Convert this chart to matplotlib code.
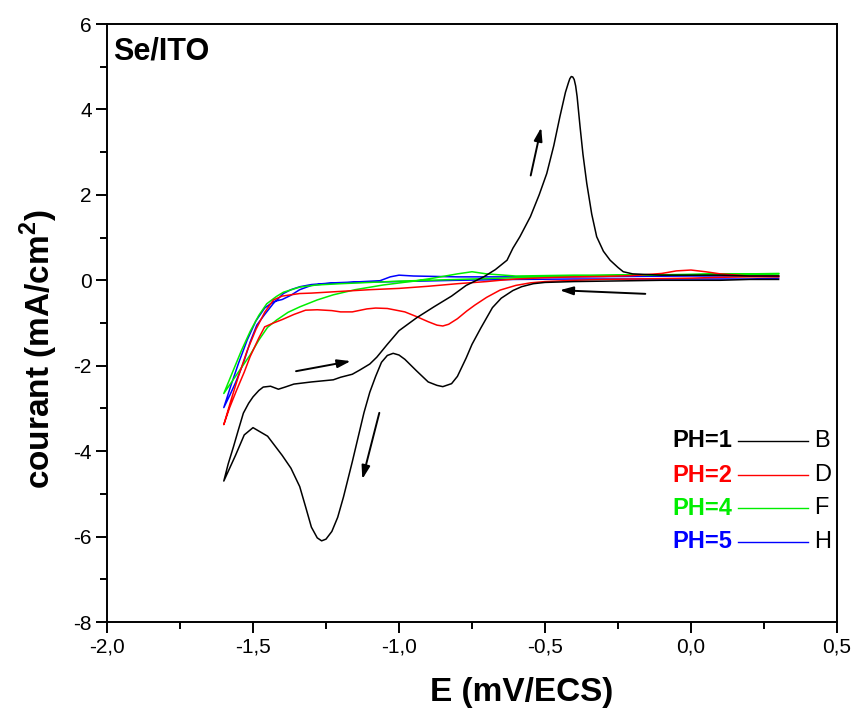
import matplotlib
matplotlib.use("Agg")
import matplotlib.pyplot as plt
from matplotlib.ticker import MultipleLocator, FuncFormatter

plt.rcParams['font.family'] = ['Liberation Sans', 'DejaVu Sans']
plt.rcParams['mathtext.fontset'] = 'custom'
plt.rcParams['mathtext.rm'] = 'Liberation Sans'
plt.rcParams['mathtext.bf'] = 'Liberation Sans:bold'

# ---------------- data ----------------
# PH=1 (black)
E1_cath = [0.30, 0.20, 0.10, 0.00, -0.10, -0.20, -0.30, -0.40, -0.45, -0.50, -0.54, -0.58, -0.61, -0.65,
           -0.68, -0.72, -0.75, -0.77, -0.80, -0.82, -0.85, -0.87, -0.90, -0.94, -0.98, -1.00, -1.02,
           -1.04, -1.06, -1.08, -1.10, -1.12, -1.16, -1.19, -1.21, -1.23, -1.25, -1.265, -1.28, -1.30,
           -1.32, -1.34, -1.37, -1.40, -1.45, -1.50, -1.53, -1.56, -1.60]
I1_cath = [0.02, 0.02, 0.00, 0.00, 0.00, -0.01, -0.02, -0.03, -0.04, -0.05, -0.08, -0.15, -0.24, -0.42,
           -0.64, -1.12, -1.50, -1.82, -2.25, -2.42, -2.49, -2.46, -2.38, -2.12, -1.85, -1.75, -1.71,
           -1.76, -1.92, -2.25, -2.62, -3.10, -4.25, -5.07, -5.55, -5.88, -6.06, -6.10, -6.03, -5.78,
           -5.30, -4.83, -4.40, -4.10, -3.65, -3.45, -3.62, -4.10, -4.70]
E1_anod = [-1.60, -1.585, -1.567, -1.55, -1.533, -1.515, -1.50, -1.48, -1.465, -1.44, -1.413, -1.39,
           -1.36, -1.30, -1.225, -1.20, -1.16, -1.134, -1.10, -1.076, -1.04, -1.00, -0.94, -0.88, -0.82,
           -0.77, -0.71, -0.67, -0.63, -0.61, -0.586, -0.55, -0.52, -0.494, -0.47, -0.449, -0.43, -0.42,
           -0.415, -0.41, -0.405, -0.40, -0.395, -0.39, -0.385, -0.38, -0.37, -0.357, -0.34, -0.323,
           -0.30, -0.277, -0.25, -0.232, -0.20, -0.10, 0.00, 0.10, 0.20, 0.30]
I1_anod = [-4.70, -4.30, -3.90, -3.50, -3.11, -2.88, -2.73, -2.58, -2.50, -2.48, -2.55, -2.50,
           -2.43, -2.38, -2.33, -2.27, -2.20, -2.10, -1.96, -1.80, -1.50, -1.18, -0.88, -0.62, -0.37,
           -0.12, 0.08, 0.25, 0.47, 0.75, 1.02, 1.49, 2.00, 2.50, 3.15, 3.83, 4.40, 4.62,
           4.72, 4.77, 4.76, 4.70, 4.55, 4.30, 3.95, 3.60, 2.95, 2.27, 1.55, 1.02,
           0.68, 0.47, 0.30, 0.20, 0.15, 0.12, 0.12, 0.12, 0.10, 0.10]

# PH=2 (red)
E2_cath = [0.30, 0.20, 0.10, 0.00, -0.10, -0.20, -0.30, -0.40, -0.50, -0.55, -0.60, -0.654, -0.70, -0.74,
           -0.768, -0.80, -0.83, -0.85, -0.87, -0.90, -0.94, -0.98, -1.04, -1.08, -1.11, -1.16, -1.20,
           -1.23, -1.28, -1.32, -1.36, -1.40, -1.43, -1.46, -1.48, -1.51, -1.53, -1.556, -1.58, -1.60]
I2_cath = [0.08, 0.08, 0.07, 0.05, 0.04, 0.03, 0.02, 0.00, -0.03, -0.06, -0.12, -0.23, -0.40, -0.58,
           -0.72, -0.90, -1.03, -1.07, -1.05, -0.97, -0.85, -0.74, -0.66, -0.65, -0.67, -0.74, -0.74,
           -0.71, -0.69, -0.70, -0.80, -0.92, -1.00, -1.09, -1.35, -1.79, -2.15, -2.57, -2.98, -3.38]
E2_anod = [-1.60, -1.575, -1.55, -1.52, -1.49, -1.46, -1.43, -1.40, -1.34, -1.30, -1.20, -1.10, -1.00,
           -0.90, -0.80, -0.70, -0.654, -0.60, -0.50, -0.40, -0.30, -0.20, -0.10, -0.05, 0.00, 0.05,
           0.10, 0.20, 0.30]
I2_anod = [-3.38, -2.80, -2.25, -1.65, -1.15, -0.75, -0.46, -0.37, -0.31, -0.30, -0.26, -0.22, -0.19,
           -0.14, -0.08, -0.03, 0.00, 0.03, 0.06, 0.08, 0.09, 0.11, 0.16, 0.22, 0.24, 0.20,
           0.15, 0.10, 0.10]

# PH=4 (green)
E4_cath = [0.30, 0.20, 0.10, 0.00, -0.20, -0.40, -0.60, -0.70, -0.75, -0.80, -0.883, -0.95, -1.054,
           -1.15, -1.225, -1.28, -1.339, -1.38, -1.419, -1.45, -1.48, -1.51, -1.54, -1.57, -1.60]
I4_cath = [0.15, 0.15, 0.14, 0.13, 0.12, 0.12, 0.10, 0.15, 0.20, 0.15, 0.05, -0.02, -0.11,
           -0.22, -0.34, -0.46, -0.62, -0.75, -0.93, -1.10, -1.40, -1.75, -2.05, -2.35, -2.65]
E4_anod = [-1.60, -1.57, -1.54, -1.51, -1.48, -1.453, -1.42, -1.396, -1.34, -1.282, -1.20, -1.10,
           -1.00, -0.90, -0.80, -0.70, -0.60, -0.50, -0.40, -0.30, -0.20, -0.10, 0.00, 0.10, 0.20, 0.30]
I4_anod = [-2.65, -2.15, -1.65, -1.20, -0.82, -0.55, -0.38, -0.28, -0.16, -0.11, -0.08, -0.05,
           -0.02, 0.00, 0.02, 0.04, 0.06, 0.08, 0.10, 0.11, 0.12, 0.13, 0.14, 0.15, 0.15, 0.16]

# PH=5 (blue)
E5_cath = [0.30, 0.20, 0.10, 0.00, -0.20, -0.40, -0.60, -0.80, -0.95, -1.00, -1.03, -1.065, -1.15,
           -1.225, -1.30, -1.339, -1.37, -1.396, -1.43, -1.46, -1.487, -1.51, -1.533, -1.56, -1.58, -1.60]
I5_cath = [0.10, 0.10, 0.10, 0.10, 0.09, 0.08, 0.08, 0.08, 0.10, 0.12, 0.08, -0.01, -0.04,
           -0.06, -0.10, -0.15, -0.22, -0.31, -0.54, -0.80, -1.05, -1.45, -1.94, -2.40, -2.70, -2.98]
E5_anod = [-1.60, -1.575, -1.55, -1.52, -1.49, -1.46, -1.43, -1.40, -1.37, -1.34, -1.30, -1.25, -1.15,
           -1.00, -0.80, -0.60, -0.40, -0.20, 0.00, 0.20, 0.30]
I5_anod = [-2.98, -2.45, -1.95, -1.40, -0.95, -0.65, -0.50, -0.45, -0.35, -0.22, -0.12, -0.08, -0.05,
           -0.03, 0.00, 0.02, 0.03, 0.03, 0.03, 0.03, 0.05]

legend_labels = ["PH=1", "PH=2", "PH=4", "PH=5"]
legend_letters = ["B", "D", "F", "H"]
colors = ["#000000", "#FF0000", "#00EE00", "#0000FF"]

xticks = [-2.0, -1.5, -1.0, -0.5, 0.0, 0.5]
yticks = [-8, -6, -4, -2, 0, 2, 4, 6]

# ---------------- figure ----------------
fig = plt.figure(figsize=(8.54, 7.13), dpi=100)
ax = fig.add_axes([107/854, 1-622/713, 730/854, 598/713])

curves = [(E1_cath + E1_anod, I1_cath + I1_anod),
          (E2_cath + E2_anod, I2_cath + I2_anod),
          (E4_cath + E4_anod, I4_cath + I4_anod),
          (E5_cath + E5_anod, I5_cath + I5_anod)]
order = [3, 2, 1, 0]
for k in order:
    ax.plot(curves[k][0], curves[k][1], color=colors[k], lw=1.1, zorder=3 + (k == 0),
            solid_joinstyle='round')

ax.set_xlim(-2.0, 0.5)
ax.set_ylim(-8, 6)
ax.set_xticks(xticks)
ax.set_yticks(yticks)
ax.xaxis.set_minor_locator(MultipleLocator(0.25))
ax.yaxis.set_minor_locator(MultipleLocator(1))
ax.xaxis.set_major_formatter(FuncFormatter(lambda v, p: ("%.1f" % v).replace(".", ",")))
ax.yaxis.set_major_formatter(FuncFormatter(lambda v, p: "%d" % v))
ax.tick_params(which='major', direction='out', length=8, width=1.4, labelsize=15, pad=3)
ax.tick_params(which='minor', direction='out', length=5, width=1.4)
for s in ax.spines.values():
    s.set_linewidth(1.4)

# arrows
arrow_kw = dict(arrowstyle='-|>,head_length=0.8,head_width=0.25', color='black', lw=1.4)
ax.annotate("", xy=(-1.156, -1.88), xytext=(-1.362, -2.14), arrowprops=arrow_kw)
ax.annotate("", xy=(-1.128, -4.72), xytext=(-1.065, -3.04), arrowprops=arrow_kw)
ax.annotate("", xy=(-0.511, 3.64), xytext=(-0.551, 2.39), arrowprops=arrow_kw)
ax.annotate("", xy=(-0.459, -0.23), xytext=(-0.147, -0.32), arrowprops=arrow_kw)

# title text
ax.text(0.008, 0.979, "Se/ITO", transform=ax.transAxes, fontsize=22, fontweight='bold',
        ha='left', va='top')

# legend
rows_y = [0.3027, 0.2458, 0.1906, 0.1338]
for lab, let, c, yy in zip(legend_labels, legend_letters, colors, rows_y):
    ax.text(0.856, yy, lab, transform=ax.transAxes, fontsize=17, fontweight='bold', color=c,
            ha='right', va='center')
    ax.plot([0.8644, 0.9603], [yy, yy], transform=ax.transAxes, color=c, lw=1.0)
    ax.text(0.969, yy, let, transform=ax.transAxes, fontsize=17, color='black',
            ha='left', va='center')

# axis labels
fig.text(522/854, 1-693/713, "E (mV/ECS)", fontsize=24, fontweight='bold', ha='center', va='center')
fig.text(39/854, 1-349/713, r"courant (mA/cm$^\mathbf{2}$)", fontsize=24, fontweight='bold',
         rotation=90, ha='center', va='center')

fig.savefig("out.png", dpi=100)
